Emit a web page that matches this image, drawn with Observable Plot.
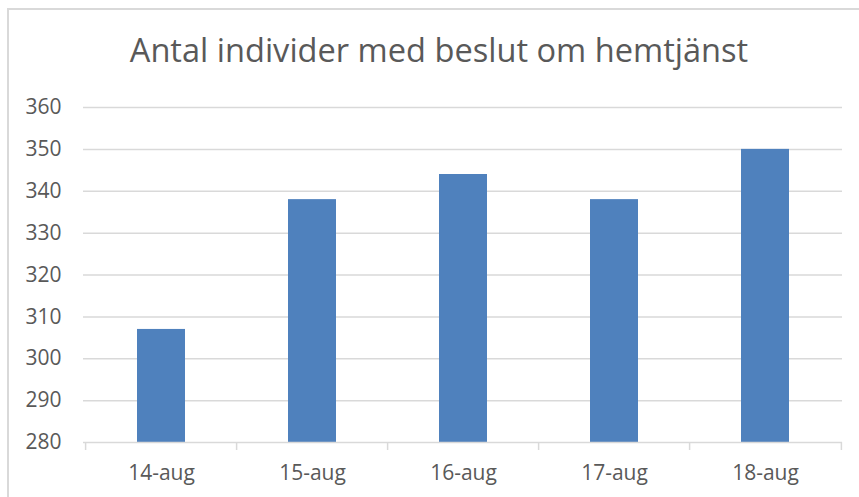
<!DOCTYPE html>
<html>
<head>
<meta charset="utf-8">
<script src="https://cdn.jsdelivr.net/npm/d3@7"></script>
<script src="https://cdn.jsdelivr.net/npm/@observablehq/plot@0.6"></script>
<style>
  html, body { margin: 0; padding: 0; background: #fff; overflow: hidden; }
  #wrap { position: relative; width: 859px; height: 497px; }
  #border { position: absolute; left: 7px; top: 8px; width: 900px; height: 600px;
            border-top: 2px solid #d9d9d9; border-left: 2px solid #d9d9d9; box-sizing: border-box; }
  #title { position: absolute; left: 0; width: 878px; top: 27px; text-align: center;
           font-family: "Open Sans", sans-serif; font-size: 32.6px; color: #595959; white-space: nowrap; }
  #chart { position: absolute; left: 0; top: 0; }
</style>
</head>
<body>
<div id="wrap">
  <div id="border"></div>
  <div id="chart"></div>
  <div id="title">Antal individer med beslut om hemtjänst</div>
</div>
<script>
const categories = ["14-aug", "15-aug", "16-aug", "17-aug", "18-aug"];
const values = [307, 338, 344, 338, 350];
const yTicks = [280, 290, 300, 310, 320, 330, 340, 350, 360];

const data = categories.map((c, i) => ({ date: c, value: values[i] }));

const width = 859, height = 497;
const marginLeft = 83, marginRight = 17, marginTop = 107, marginBottom = 55;
const step = (width - marginLeft - marginRight) / categories.length;

const chart = Plot.plot({
  width, height, marginLeft, marginRight, marginTop, marginBottom,
  style: { fontFamily: "Open Sans, sans-serif", fontSize: "21px", color: "#595959", background: "transparent" },
  x: { domain: categories, paddingInner: 0.684, paddingOuter: 0.342, align: 0.5, label: null },
  y: { domain: [280, 360], label: null },
  marks: [
    Plot.ruleY(yTicks.filter(d => d > 280), { stroke: "#d9d9d9", strokeWidth: 1.5 }),
    Plot.barY(data, { x: "date", y1: 280, y2: "value", fill: "#4f81bd" }),
    Plot.ruleY([280], { stroke: "#d9d9d9", strokeWidth: 1.5 }),
    Plot.ruleX(categories, { x: d => d, dx: -step / 2, y1: 280, y2: 280, insetBottom: -8, stroke: "#d9d9d9", strokeWidth: 1.5 }),
    Plot.ruleX([categories[categories.length - 1]], { x: d => d, dx: step / 2, y1: 280, y2: 280, insetBottom: -8, stroke: "#d9d9d9", strokeWidth: 1.5 }),
    Plot.axisY({ ticks: yTicks, tickSize: 0, tickPadding: 22, fill: "#595959", fontSize: 21, label: null }),
    Plot.axisX({ tickSize: 0, tickPadding: 23, fill: "#595959", fontSize: 21, label: null })
  ]
});
document.getElementById("chart").appendChild(chart);
</script>
</body>
</html>
